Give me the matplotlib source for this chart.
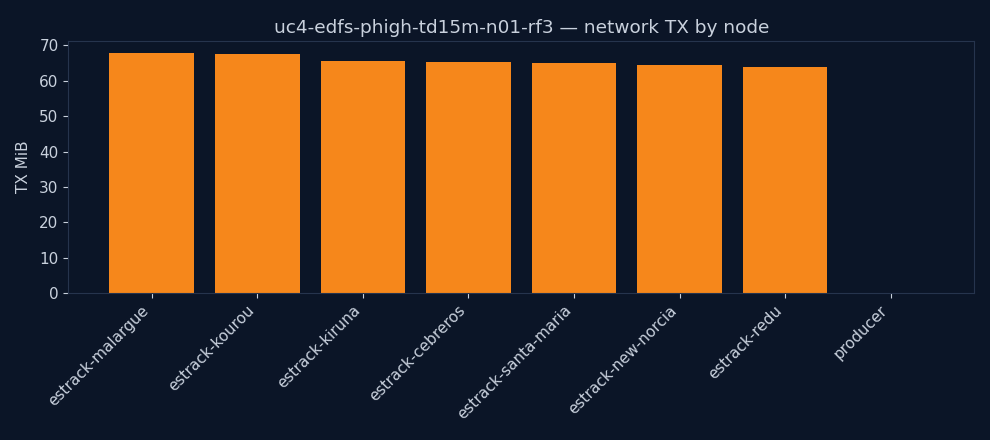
import matplotlib
matplotlib.use("Agg")
from matplotlib import pyplot as plt

nodes = ['estrack-malargue', 'estrack-kourou', 'estrack-kiruna', 'estrack-cebreros',
         'estrack-santa-maria', 'estrack-new-norcia', 'estrack-redu', 'producer']
tx_mib = [67.9, 67.65, 65.6, 65.3, 65.05, 64.5, 63.95, 0.0]

bg = '#0b1527'
fg = '#c9d1dd'
edge = '#26344d'

fig, ax = plt.subplots(figsize=(9.9, 4.4), dpi=100)
fig.patch.set_facecolor(bg)
ax.set_facecolor(bg)

ax.bar(range(len(nodes)), tx_mib, width=0.8, color='#f6871b')
ax.set_xticks(range(len(nodes)))
ax.set_xticklabels(nodes, rotation=45, ha='right')

ax.set_ylabel('TX MiB', color=fg, fontsize=11, labelpad=6)
ax.set_title('uc4-edfs-phigh-td15m-n01-rf3 — network TX by node', color=fg, fontsize=13.3, pad=6)
ax.tick_params(colors=fg, labelsize=11)
for s in ax.spines.values():
    s.set_color(edge)

fig.subplots_adjust(left=0.069, right=0.984, top=0.907, bottom=0.334)
plt.savefig('out.png', facecolor=bg)
